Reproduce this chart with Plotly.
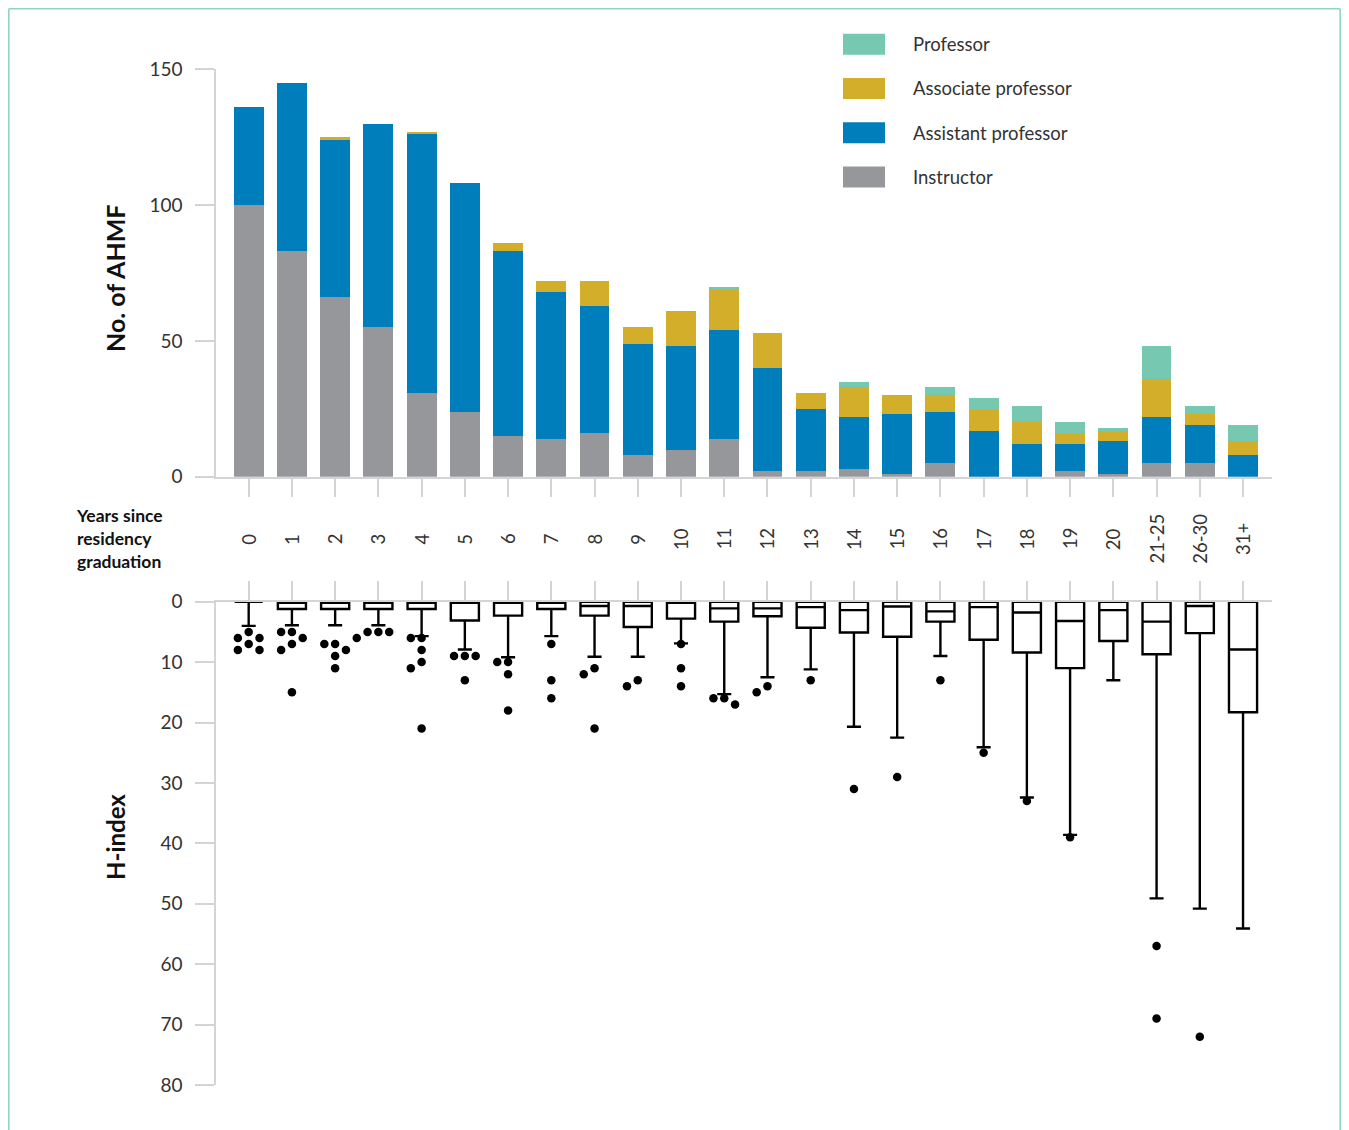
import plotly.graph_objects as go

# ---------------- data ----------------
categories = ["0", "1", "2", "3", "4", "5", "6", "7", "8", "9", "10", "11", "12",
              "13", "14", "15", "16", "17", "18", "19", "20", "21-25", "26-30", "31+"]

instructor = [100, 83, 66, 55, 31, 24, 15, 14, 16, 8, 10, 14, 2, 2, 3, 1, 5, 0, 0, 2, 1, 5, 5, 0]
assistant  = [36, 62, 58, 75, 95, 84, 68, 54, 47, 41, 38, 40, 38, 23, 19, 22, 19, 17, 12, 10, 12, 17, 14, 8]
associate  = [0, 0, 1, 0, 1, 0, 3, 4, 9, 6, 13, 15, 13, 6, 11, 7, 6, 8, 8, 4, 4, 14, 4, 5]
professor  = [0, 0, 0, 0, 0, 0, 0, 0, 0, 0, 0, 1, 0, 0, 2, 0, 3, 4, 6, 4, 1, 12, 3, 6]

series_names = ["Instructor", "Assistant professor", "Associate professor", "Professor"]
series_colors = ["#96979b", "#007dbb", "#d2ae2a", "#76c9b0"]
series_values = [instructor, assistant, associate, professor]

# H-index box statistics
h_q1 = [0] * 24
h_median = [0, 0, 0, 0, 0, 0, 0, 0, 0.7, 0.7, 0, 1.1, 1.1, 0.9, 1.4, 0.8, 1.6, 0.9, 1.8, 3.2, 1.4, 3.3, 0.7, 7.9]
h_q3 = [0, 1.2, 1.2, 1.2, 1.2, 3.1, 2.3, 1.2, 2.3, 4.2, 2.8, 3.3, 2.4, 4.3, 5.1, 5.8, 3.3, 6.3, 8.4, 11.0, 6.5, 8.7, 5.2, 18.3]
h_lower = [0] * 24
h_upper = [4, 3.9, 3.9, 3.9, 5.7, 7.9, 9.2, 5.7, 9.1, 9.1, 6.9, 15.3, 12.5, 11.2, 20.7, 22.5, 9.0, 24.1, 32.4, 38.6, 13.0, 49.1, 50.8, 54.1]
h_outliers = [
    [5, 6, 6, 7, 8, 8],
    [5, 5, 6, 7, 8, 15],
    [7, 7, 8, 9, 11],
    [5, 5, 5, 6],
    [6, 6, 8, 10, 11, 21],
    [9, 9, 9, 13],
    [10, 10, 12, 18],
    [7, 13, 16],
    [11, 12, 21],
    [13, 14],
    [7, 11, 14],
    [16, 16, 17],
    [14, 15],
    [13],
    [31],
    [29],
    [13],
    [25],
    [33],
    [39],
    [],
    [57, 69],
    [72],
    [],
]

bar_ticks = [0, 50, 100, 150]
h_ticks = [0, 10, 20, 30, 40, 50, 60, 70, 80]

# ---------------- geometry ----------------
W, H = 1333, 1122
L, R, T, B = 208, 69, 61, 45
PW, PH = W - L - R, H - T - B
OFF = 8  # body margin of the page


def px(xpage):
    return (xpage - OFF - L) / PW


def py(ypage):
    return 1 - (ypage - OFF - T) / PH


FONT = "Lato"
TXT = "#333333"
AXC = "#d4d4d4"
xidx = list(range(len(categories)))
xrange_ = [-0.756, 23.67]

fig = go.Figure()

for name, color, vals in zip(series_names, series_colors, series_values):
    fig.add_trace(go.Bar(x=xidx, y=vals, name=name, marker=dict(color=color, line=dict(width=0)),
                         xaxis="x", yaxis="y", showlegend=False))

fig.add_trace(go.Box(x=xidx, q1=h_q1, median=h_median, q3=h_q3,
                     lowerfence=h_lower, upperfence=h_upper,
                     xaxis="x2", yaxis="y2", boxpoints=False, width=0.65, whiskerwidth=0.5,
                     line=dict(color="black", width=2.4), fillcolor="white", showlegend=False))

# beeswarm placement of outliers (pixel space)
cat_px = PW / (xrange_[1] - xrange_[0])
unit_px = (py(601.7) - 0) * PH / 80
step = 0.25
ox, oy = [], []
for i, vals in enumerate(h_outliers):
    placed = []
    for v in sorted(vals):
        for k in [0, -1, 1, -2, 2, -3, 3]:
            dx = k * step
            ok = True
            for (pdx, pv) in placed:
                d = ((dx - pdx) * cat_px) ** 2 + ((v - pv) * unit_px) ** 2
                if d < 9.5 ** 2:
                    ok = False
                    break
            if ok:
                placed.append((dx, v))
                break
    for dx, v in placed:
        ox.append(i + dx)
        oy.append(v)

fig.add_trace(go.Scatter(x=ox, y=oy, mode="markers", xaxis="x2", yaxis="y2",
                         marker=dict(color="black", size=8.5), showlegend=False, hoverinfo="y"))

axis_common = dict(showline=True, linecolor=AXC, linewidth=1.5, showgrid=False, zeroline=False,
                   ticks="outside", ticklen=19, tickcolor=AXC, tickwidth=1.5)

fig.update_layout(
    width=W, height=H, autosize=False,
    margin=dict(l=L, r=R, t=T, b=B),
    paper_bgcolor="white", plot_bgcolor="white",
    barmode="stack", bargap=0.31,
    font=dict(family=FONT, color=TXT),
    xaxis=dict(domain=[0, 1], range=xrange_, anchor="y", tickvals=xidx, showticklabels=False,
               **axis_common),
    yaxis=dict(domain=[py(476.7), py(69.3)], range=[0, 150], anchor="x", tickvals=bar_ticks,
               tickfont=dict(size=19, color=TXT, family=FONT), ticklabelstandoff=9, **axis_common),
    xaxis2=dict(domain=[0, 1], range=xrange_, anchor="y2", side="top", tickvals=xidx,
                showticklabels=False, **axis_common),
    yaxis2=dict(domain=[py(1085), py(601.7)], range=[80, 0], anchor="x2", tickvals=h_ticks,
                tickfont=dict(size=19, color=TXT, family=FONT), ticklabelstandoff=9, **axis_common),
)

annotations = []
# category labels between panels
for i, c in enumerate(categories):
    annotations.append(dict(x=i, y=py(539), xref="x", yref="paper", text=c, showarrow=False,
                            textangle=-90, xanchor="center", yanchor="middle",
                            font=dict(size=18.5, color=TXT, family=FONT)))
annotations.append(dict(x=px(74), y=py(538), xref="paper", yref="paper",
                        text="<b>Years since<br>residency<br>graduation</b>", showarrow=False,
                        xanchor="left", yanchor="middle", align="left",
                        font=dict(size=17.5, color="#111111", family=FONT)))
annotations.append(dict(x=px(115), y=py(279), xref="paper", yref="paper", text="<b>No. of AHMF</b>",
                        showarrow=False, textangle=-90, xanchor="center", yanchor="middle",
                        font=dict(size=25, color="#111111", family=FONT)))
annotations.append(dict(x=px(115), y=py(837), xref="paper", yref="paper", text="<b>H-index</b>",
                        showarrow=False, textangle=-90, xanchor="center", yanchor="middle",
                        font=dict(size=24, color="#111111", family=FONT)))

shapes = []
# custom legend (top to bottom: reverse of stacking order)
for j, (name, color) in enumerate(zip(series_names[::-1], series_colors[::-1])):
    cy = 44.3 + j * 44.2
    shapes.append(dict(type="rect", xref="paper", yref="paper", x0=px(843), x1=px(885),
                       y0=py(cy + 10.5), y1=py(cy - 10.5), fillcolor=color, line=dict(width=0)))
    annotations.append(dict(x=px(911), y=py(cy), xref="paper", yref="paper", text=name,
                            showarrow=False, xanchor="left", yanchor="middle",
                            font=dict(size=18.5, color=TXT, family=FONT)))

# outer border (top, left, right)
BC = "#8fd6bf"
fx = lambda f: (f - L) / PW
fy = lambda f: 1 - (f - T) / PH
shapes.append(dict(type="line", xref="paper", yref="paper", x0=fx(0.8), x1=fx(W - 0.8), y0=fy(0.8), y1=fy(0.8),
                   line=dict(color=BC, width=1.6)))
shapes.append(dict(type="line", xref="paper", yref="paper", x0=fx(0.8), x1=fx(0.8), y0=fy(0.8), y1=fy(H + 5),
                   line=dict(color=BC, width=1.6)))
shapes.append(dict(type="line", xref="paper", yref="paper", x0=fx(W - 0.8), x1=fx(W - 0.8), y0=fy(0.8), y1=fy(H + 5),
                   line=dict(color=BC, width=1.6)))

fig.update_layout(annotations=annotations, shapes=shapes)

fig.write_html("out.html")
